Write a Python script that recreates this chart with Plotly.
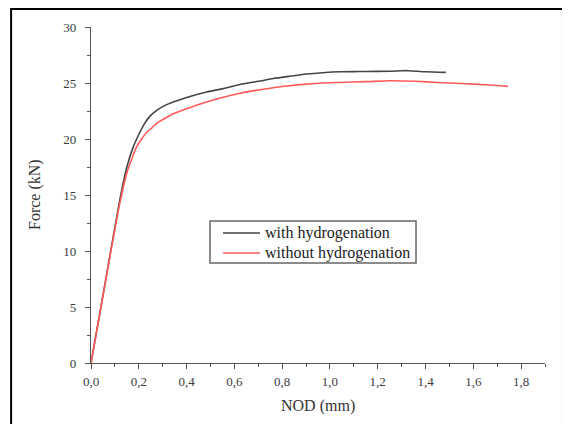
import plotly.graph_objects as go

# with hydrogenation
nod_with = [0, 0.04, 0.08, 0.12, 0.15, 0.177, 0.2, 0.219, 0.245, 0.275, 0.31, 0.344, 0.414,
            0.484, 0.554, 0.623, 0.7, 0.763, 0.83, 0.902, 0.97, 1.042, 1.1, 1.15, 1.25, 1.3,
            1.33, 1.4, 1.485]
force_with = [0, 4.8, 9.7, 14.5, 17.5, 19.3, 20.4, 21.2, 22.0, 22.56, 23.0, 23.3, 23.8,
              24.2, 24.5, 24.87, 25.15, 25.4, 25.6, 25.8, 25.92, 26.0, 26.02, 26.03, 26.05, 26.1,
              26.1, 26.0, 25.95]

# without hydrogenation
nod_without = [0, 0.04, 0.08, 0.12, 0.149, 0.17, 0.191, 0.212, 0.233, 0.255, 0.275, 0.31,
               0.344, 0.414, 0.484, 0.554, 0.623, 0.7, 0.763, 0.83, 0.902, 0.97, 1.04, 1.15,
               1.25, 1.36, 1.45, 1.55, 1.65, 1.745]
force_without = [0, 4.8, 9.6, 14.2, 16.9, 18.2, 19.3, 20.0, 20.6, 21.0, 21.4, 21.85,
                 22.25, 22.8, 23.3, 23.72, 24.08, 24.38, 24.58, 24.76, 24.9, 25.0, 25.05, 25.12,
                 25.2, 25.15, 25.05, 24.95, 24.85, 24.7]

series_names = ["with hydrogenation", "without hydrogenation"]
series_colors = ["#454545", "#ff5a5a"]

x_ticks = [0, 0.2, 0.4, 0.6, 0.8, 1.0, 1.2, 1.4, 1.6, 1.8]
y_ticks = [0, 5, 10, 15, 20, 25, 30]

serif = "Liberation Serif, Times New Roman, serif"

fig = go.Figure()
for xs, ys, name, color in zip([nod_with, nod_without], [force_with, force_without],
                               series_names, series_colors):
    fig.add_trace(go.Scatter(x=xs, y=ys, mode="lines", name=name, showlegend=False,
                             line=dict(color=color, width=1.6, shape="spline", smoothing=0.6)))

axis_common = dict(showgrid=False, zeroline=False, showline=True, linecolor="#555555",
                   linewidth=1.3, ticks="outside", ticklen=5, tickwidth=1.2, tickcolor="#555555",
                   tickfont=dict(family=serif, size=13, color="#3c3c3c"),
                   mirror=False)

fig.update_xaxes(range=[0, 1.9], tickvals=x_ticks, tickformat=".1f", ticklabelstandoff=1,
                 minor=dict(dtick=0.1, ticks="outside", ticklen=3, tickcolor="#555555", tickwidth=1),
                 **axis_common)
fig.update_yaxes(range=[0, 30], tickvals=y_ticks, ticklabelstandoff=6,
                 minor=dict(dtick=2.5, ticks="outside", ticklen=3, tickcolor="#555555", tickwidth=1),
                 **axis_common)

# axis titles
fig.add_annotation(text="NOD (mm)", xref="paper", yref="paper", x=0.5, y=-0.127,
                   xanchor="center", yanchor="middle", showarrow=False,
                   font=dict(family=serif, size=16, color="#333333"))
fig.add_annotation(text="Force (kN)", xref="paper", yref="paper", x=-0.1233, y=0.5,
                   xanchor="center", yanchor="middle", showarrow=False, textangle=-90,
                   font=dict(family=serif, size=16, color="#333333"))

# outer frame
fig.add_shape(type="rect", xref="paper", yref="paper", x0=-0.176, x1=1.0396, y0=-0.3, y1=1.0536,
              line=dict(color="black", width=2), fillcolor="rgba(0,0,0,0)", layer="below")

# legend box (drawn manually for a compact layout)
fig.add_shape(type="rect", xref="paper", yref="paper", x0=0.2621, x1=0.7159, y0=0.2976, y1=0.4226,
              line=dict(color="#666666", width=1.5), fillcolor="white", layer="above")
for i, (name, color) in enumerate(zip(series_names, series_colors)):
    ly = 0.3869 - i * 0.0595
    fig.add_shape(type="line", xref="paper", yref="paper", x0=0.2907, x1=0.3722, y0=ly, y1=ly,
                  line=dict(color=color, width=1.6), layer="above")
    fig.add_annotation(text=name, xref="paper", yref="paper", x=0.3789, y=ly,
                       xanchor="left", yanchor="middle", showarrow=False,
                       font=dict(family=serif, size=16, color="#222222"))

fig.update_layout(
    width=570, height=424,
    margin=dict(l=83, r=33, t=19, b=69),
    paper_bgcolor="white", plot_bgcolor="white",
    separators=",.",
    showlegend=False,
)

fig.write_html("out.html")
